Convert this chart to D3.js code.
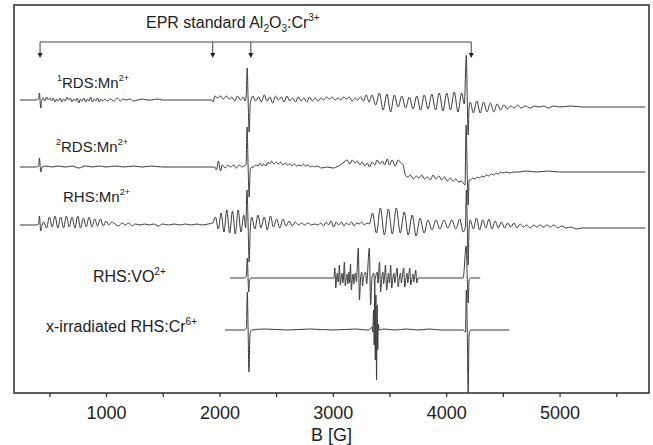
<!DOCTYPE html>
<html>
<head>
<meta charset="utf-8">
<script src="https://cdn.jsdelivr.net/npm/d3@7"></script>
<style>
  body { margin: 0; background: #fff; }
  svg text { font-family: "Liberation Sans", Arial, sans-serif; fill: #222; }
</style>
</head>
<body>
<div id="chart"></div>
<script>
// field range of the x axis [G]
let fieldDomain = [188, 5789];
let tickFields = [500, 1000, 1500, 2000, 2500, 3000, 3500, 4000, 4500, 5000, 5500];

// Al2O3:Cr3+ standard lines marked by the arrows [G]
let standardLines = [418, 1941, 2277, 4221];

// spectra: [B (G), intensity (a.u.)]
let rds1 = [
  [241,0],[380,0],[405,1],[412,7],[424,-8],[432,-1],
  [445,2],[460,-1],[475,3],[490,0],[505,2],[520,-1],[535,2],[550,-2],[565,1],[580,-1],[595,2],[610,-2],
  [625,1],[640,-1],[655,3],[670,0],[685,2],[700,-2],[715,1],[730,-1],[745,2],[760,-3],[775,1],[790,-1],
  [805,2],[820,-2],[835,1],[850,-1],[865,3],[880,-2],[895,1],[910,-1],[925,2],[940,-2],[955,1],[970,-1],
  [990,1],[1010,-1],[1040,1],[1070,-1],[1100,2],[1125,-1],[1150,1],[1180,0],[1210,1],[1240,-1],[1280,0],
  [1320,1],[1360,0],[1400,0],[1450,1],[1500,0],[1600,0],[1700,0],[1800,0],[1900,0],
  [1930,0],[1945,-2],[1960,4],[1985,2],[2010,4],[2035,1],[2060,4],[2085,1],[2110,3],[2135,-1],
  [2160,4],[2185,0],[2210,3],[2228,-1],
  [2236,4],[2245,32],[2253,0],[2262,-32],[2272,-3],[2282,1],
  [2295,4],[2320,-1],[2345,3],[2370,-2],[2395,5],[2420,-1],[2445,3],[2470,-3],[2495,4],[2520,0],
  [2545,3],[2570,-2],[2595,4],[2620,-1],[2645,2],[2670,-2],[2695,3],[2720,-1],[2745,2],[2770,-2],
  [2795,3],[2820,-1],[2845,2],[2870,-1],
  [2895,2],[2920,0],[2945,3],[2970,1],[2995,3],[3020,0],[3045,2],[3070,0],[3095,3],[3120,1],[3145,3],
  [3170,-1],[3195,2],[3220,0],[3245,3],[3270,-1],[3295,5],[3320,-2],
  [3345,5],[3378,-5],[3411,7],[3444,-10],[3477,6],[3510,-12],[3543,5],[3576,-7],[3609,4],[3642,-8],
  [3675,3],[3708,-9],[3741,4],[3774,-10],[3807,5],[3840,-9],[3873,6],[3906,-10],[3939,7],[3972,-11],
  [4005,7],[4038,-10],[4071,8],[4104,-12],[4137,7],[4160,-4],
  [4178,45],[4186,0],[4194,-35],[4202,-7],
  [4212,-2],[4240,-13],[4270,-1],[4300,-13],[4330,-2],[4360,-12],[4390,-3],[4420,-12],[4450,-4],
  [4480,-10],[4510,-5],[4540,-9],[4570,-6],[4600,-8],[4630,-5],[4660,-8],[4700,-6],[4740,-8],
  [4780,-6],[4820,-7],[4860,-6],[4900,-8],[4950,-6],[5000,-7],[5100,-6],[5200,-7],[5300,-7],
  [5450,-7],[5600,-7],[5756,-7]
];

let rds2 = [
  [241,0],[380,0],[405,1],[412,9],[424,-5],[435,0],
  [470,1],[520,0],[580,1],[640,0],[700,1],[760,-1],[820,1],[880,0],[940,1],[1000,0],[1080,1],[1160,0],
  [1240,1],[1320,0],[1400,1],[1500,0],[1600,0],[1700,0],[1800,0],[1900,0],[1960,0],
  [1975,-3],[1990,6],[2000,1],[2010,-4],[2025,2],[2050,-1],[2075,2],[2100,0],[2125,2],[2150,-1],
  [2175,2],[2200,0],[2220,1],[2235,2],
  [2244,40],[2253,0],[2262,-30],[2272,-2],[2285,0],
  [2300,0],[2320,2],[2340,1],[2360,4],[2375,1],[2390,3],[2410,1],[2430,5],[2445,3],[2460,6],[2480,3],
  [2500,5],[2520,3],[2540,5],[2560,2],[2580,4],[2600,2],[2620,3],[2640,1],[2660,3],[2680,1],[2700,2],
  [2720,1],[2740,3],[2760,1],[2780,2],[2800,0],[2820,1],[2840,0],[2860,1],[2880,0],
  [2900,-1],[2950,0],[3000,-1],[3050,1],[3090,4],[3127,7],[3150,3],[3171,7],[3195,4],[3215,6],[3240,2],
  [3259,5],[3285,1],[3303,4],[3325,0],[3347,5],[3370,2],[3392,7],[3415,3],[3436,6],[3458,2],[3480,8],
  [3500,2],[3524,7],[3550,1],[3577,7],[3600,4],[3620,2],[3640,-8],[3660,-10],[3685,-8],[3710,-12],
  [3735,-9],[3760,-11],[3785,-8],[3810,-12],[3835,-10],[3860,-13],[3885,-8],[3910,-12],[3935,-9],
  [3960,-13],[3985,-10],[4010,-14],[4035,-11],[4060,-14],[4085,-12],[4110,-15],[4135,-14],[4155,-17],
  [4166,-18],
  [4176,42],[4186,-10],[4194,-38],[4202,-13],
  [4215,-13],[4235,-11],[4255,-12],[4275,-10],[4295,-11],[4315,-9],[4335,-10],[4355,-8],[4375,-9],
  [4400,-7],[4420,-8],[4440,-6],[4460,-7],[4480,-5],[4500,-6],[4530,-5],[4560,-6],[4600,-5],[4650,-5],
  [4700,-4],[4800,-5],[4900,-4],[5000,-5],[5200,-5],[5400,-5],[5600,-5],[5756,-5]
];

let rhsMn = [
  [241,0],[380,0],[405,1],[412,9],[424,-6],[435,0],
  [450,3],[475,-3],[500,8],[525,-2],[550,9],[575,-3],[600,8],[625,-3],[650,9],[675,-2],[700,8],
  [725,-3],[750,9],[775,-3],[800,7],[825,-2],[850,8],[875,-2],[900,6],[925,-1],[950,6],[975,-1],
  [1000,4],[1025,0],[1050,3],
  [1080,1],[1110,-1],[1140,2],[1170,0],[1200,2],[1230,-1],[1260,1],[1300,0],[1340,1],[1380,0],[1420,1],
  [1460,-1],[1500,1],[1550,0],[1600,1],[1650,0],[1700,1],[1750,0],[1800,1],[1850,0],[1900,1],
  [1940,2],[1965,8],[1990,-4],[2015,12],[2040,-7],[2065,15],[2090,-8],[2115,14],[2140,-9],[2165,15],
  [2190,-7],[2215,10],[2232,-3],
  [2243,35],[2253,0],[2262,-37],[2272,-4],
  [2285,8],[2312,-4],[2340,10],[2367,-3],[2395,8],[2422,-5],[2450,9],[2477,-2],[2505,6],[2532,-3],
  [2560,6],[2587,-1],[2615,4],[2642,-1],[2670,3],[2697,0],[2725,2],[2752,0],[2780,2],[2810,0],
  [2840,1],[2870,0],
  [2895,2],[2918,-1],[2940,3],[2963,0],[2985,4],[3008,-2],[3030,3],[3053,0],[3075,3],[3098,-1],
  [3120,2],[3143,0],[3165,3],[3188,-1],[3210,2],[3233,1],[3255,3],[3278,0],[3300,2],[3322,1],
  [3350,12],[3385,-8],[3420,17],[3455,-10],[3490,16],[3525,-9],[3560,17],[3595,-8],[3630,13],
  [3665,-10],[3700,10],[3735,-11],[3770,7],[3805,-8],[3840,5],[3875,-5],[3910,5],[3945,-4],[3980,5],
  [4015,-3],[4050,5],[4085,-4],[4120,6],[4150,-7],[4170,-2],
  [4178,35],[4186,0],[4194,-40],[4202,-3],
  [4212,5],[4240,-4],[4267,7],[4295,-5],[4322,5],[4350,-3],[4377,6],[4405,-4],[4432,4],[4460,-3],
  [4487,3],[4515,-3],[4542,2],[4570,-2],[4597,2],[4625,-3],[4652,1],[4680,-2],[4710,0],[4740,-3],
  [4770,0],[4800,-2],[4830,0],[4860,-2],[4890,0],[4920,-2],[4950,0],[4985,-3],[5020,-1],[5060,-3],
  [5100,-2],[5150,-4],[5200,-3],[5300,-3],[5400,-3],[5550,-3],[5756,-3]
];

let rhsVO = [
  [2094,0],[2220,0],[2238,3],[2246,20],[2252,2],[2258,-14],[2266,-2],[2280,0],
  [2400,0],[2600,0],[2800,0],[2950,0],[3000,0],
  [3010,0],[3018,10],[3026,-10],[3034,0],[3040,5],[3046,-4],[3052,0],
  [3058,13],[3066,-7],[3074,0],[3082,5],[3088,-5],[3094,0],
  [3102,16],[3110,-8],[3118,0],[3126,4],[3132,-6],[3138,0],
  [3142,6],[3148,-5],[3156,14],[3164,-12],[3172,0],[3180,4],[3186,-6],[3192,0],
  [3200,5],[3208,-4],[3225,30],[3235,-22],[3245,0],[3256,6],[3262,-8],[3270,0],
  [3290,6],[3298,-6],[3322,30],[3334,-27],[3345,0],[3362,5],[3368,-6],[3376,0],
  [3392,6],[3398,-5],[3412,16],[3422,-14],[3432,0],[3442,6],[3448,-6],[3455,0],
  [3465,13],[3475,-12],[3485,0],[3492,5],[3498,-5],[3504,0],
  [3510,13],[3520,-10],[3530,0],[3540,5],[3546,-5],[3554,0],
  [3567,10],[3577,-9],[3587,0],[3598,5],[3604,-5],[3612,0],
  [3625,10],[3635,-9],[3645,0],[3655,5],[3661,-5],[3668,0],
  [3678,10],[3688,-7],[3698,0],[3708,4],[3714,-4],[3721,0],
  [3731,8],[3741,-5],[3751,0],
  [3850,0],[4000,0],[4150,0],
  [4176,32],[4186,0],[4194,-25],[4202,-2],[4215,0],[4300,0]
];

let rhsCr = [
  [2050,0],[2220,0],[2238,2],[2246,38],[2253,0],[2260,-42],[2270,-3],[2285,0],
  [2400,1],[2600,0],[2800,1],[3000,0],[3200,1],[3300,0],[3330,1],[3345,3],[3352,-2],
  [3360,20],[3365,-15],[3370,47],[3375,-30],[3380,35],[3386,-50],[3391,25],[3396,-20],[3402,6],[3410,0],
  [3450,1],[3550,0],[3650,1],[3750,0],[3850,1],[3950,0],[4050,0],[4150,0],
  [4170,-2],[4178,40],[4186,0],[4194,-63],[4202,-5],[4215,0],[4300,0],[4400,0],[4556,0]
];

let width = 653;
let height = 445;
let plotLeft = 14, plotRight = 649, plotTop = 5, plotBottom = 393;

let xScale = d3.scaleLinear().domain(fieldDomain).range([plotLeft, plotRight]);
// intensity units are stacked, one unit about one pixel
let yScale = d3.scaleLinear().domain([0, plotBottom - plotTop]).range([plotBottom, plotTop]);

let traces = [
  { data: rds1, offset: 293 },
  { data: rds2, offset: 226 },
  { data: rhsMn, offset: 168 },
  { data: rhsVO, offset: 115 },
  { data: rhsCr, offset: 63 }
];

let svg = d3.select("#chart").append("svg")
  .attr("width", width)
  .attr("height", height);

let line = d3.line()
  .curve(d3.curveMonotoneX)
  .x((d) => xScale(d[0]));

traces.forEach((t) => {
  svg.append("path")
    .datum(t.data)
    .attr("fill", "none")
    .attr("stroke", "#3a3a3a")
    .attr("stroke-width", 1)
    .attr("stroke-linejoin", "round")
    .attr("d", line.y((d) => yScale(t.offset + d[1])));
});

// bracket with arrows for the standard
let bracketY = 42, arrowEnd = 58;
svg.append("line")
  .attr("x1", xScale(d3.min(standardLines))).attr("x2", xScale(d3.max(standardLines)))
  .attr("y1", bracketY).attr("y2", bracketY)
  .attr("stroke", "#444").attr("stroke-width", 1);

svg.selectAll(".arrow")
  .data(standardLines)
  .enter()
  .append("g")
  .attr("class", "arrow")
  .each(function (b) {
    let g = d3.select(this);
    let x = xScale(b);
    g.append("line")
      .attr("x1", x).attr("x2", x)
      .attr("y1", bracketY).attr("y2", arrowEnd - 4)
      .attr("stroke", "#444").attr("stroke-width", 1);
    g.append("path")
      .attr("d", `M${x - 2.5},${arrowEnd - 5} L${x + 2.5},${arrowEnd - 5} L${x},${arrowEnd} Z`)
      .attr("fill", "#222");
  });

// frame
svg.append("rect")
  .attr("x", plotLeft).attr("y", plotTop)
  .attr("width", plotRight - plotLeft).attr("height", plotBottom - plotTop)
  .attr("fill", "none")
  .attr("stroke", "#2a2a2a")
  .attr("stroke-width", 1.5);

let xAxis = d3.axisBottom(xScale)
  .tickValues(tickFields)
  .tickFormat((d) => (d % 1000 === 0 ? d : ""))
  .tickSize(4)
  .tickPadding(9);

let ax = svg.append("g")
  .attr("transform", `translate(0, ${plotBottom})`)
  .call(xAxis);
ax.select(".domain").remove();
ax.selectAll(".tick line").attr("stroke", "#2a2a2a").attr("stroke-width", 1.2);
ax.selectAll(".tick text")
  .style("font-family", "'Liberation Sans', Arial, sans-serif")
  .style("font-size", "18px")
  .attr("fill", "#222");

svg.append("text")
  .attr("x", (plotLeft + plotRight) / 2)
  .attr("y", 441)
  .attr("text-anchor", "middle")
  .style("font-size", "18px")
  .text("B [G]");

// labels with super/subscripts: parts of [text, shift]
function richText(x, y, parts, size) {
  let t = svg.append("text").attr("x", x).attr("y", y).style("font-size", size + "px");
  let shift = 0;
  parts.forEach((p) => {
    let s = p[1];
    let span = t.append("tspan").text(p[0]).attr("dy", s - shift);
    if (s !== 0) span.style("font-size", Math.round(size * 0.62) + "px");
    shift = s;
  });
  return t;
}

richText(146, 28, [["EPR standard Al", 0], ["2", 4], ["O", 0], ["3", 4], [":Cr", 0], ["3+", -7]], 16);
richText(57, 88, [["1", -7], ["RDS:Mn", 0], ["2+", -7]], 15);
richText(56, 152, [["2", -7], ["RDS:Mn", 0], ["2+", -7]], 15);
richText(63, 202, [["RHS:Mn", 0], ["2+", -7]], 15);
richText(93, 282, [["RHS:VO", 0], ["2+", -7]], 16);
richText(46, 332, [["x-irradiated RHS:Cr", 0], ["6+", -7]], 16);
</script>
</body>
</html>
